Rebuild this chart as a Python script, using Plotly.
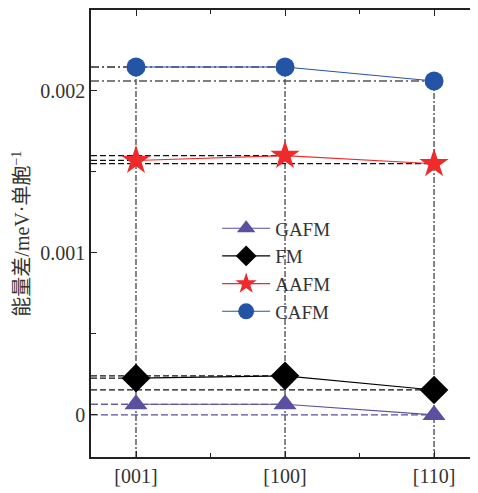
import plotly.graph_objects as go

categories = ["[001]", "[100]", "[110]"]
gafm = [0.000066, 0.000066, 0.0]
fm = [0.000227, 0.000241, 0.000154]
aafm = [0.001571, 0.001601, 0.001551]
cafm = [0.002148, 0.002148, 0.002062]

y_ticks = [0, 0.001, 0.002]
y_tick_labels = ["0", "0.001", "0.002"]

x_range = [-0.302, 2.295]
y_range = [-0.00026, 0.0025]

FONT = "Liberation Serif, 'Noto Sans CJK SC', serif"
xs = list(range(len(categories)))

fig = go.Figure()

# vertical dash-dot guides
for i in xs:
    fig.add_trace(go.Scatter(x=[i, i], y=[cafm[i], y_range[0]], mode="lines",
                             line=dict(color="#222222", width=1.1, dash="6px,2px,2px,2px"),
                             showlegend=False, hoverinfo="skip"))

def hrefs(vals, color, dash, width):
    for i in xs:
        fig.add_trace(go.Scatter(x=[x_range[0], i], y=[vals[i], vals[i]], mode="lines",
                                 line=dict(color=color, width=width, dash=dash),
                                 showlegend=False, hoverinfo="skip"))

hrefs(gafm, "#5a4fa0", "7px,3px", 1.1)
hrefs(fm, "#111111", "6px,3px", 1.2)
hrefs(aafm, "#111111", "6px,3px", 1.2)
hrefs(cafm, "#555555", "8px,3px,2px,3px", 1.6)

series = [
    ("GAFM", gafm, "#5a4fa0", "triangle-up", 20),
    ("FM", fm, "#000000", "diamond", 22),
    ("AAFM", aafm, "#ee2a2a", "star", 22),
    ("CAFM", cafm, "#2454a5", "circle", 19),
]
for name, vals, color, sym, size in series:
    fig.add_trace(go.Scatter(x=xs, y=vals, mode="lines+markers", name=name,
                             line=dict(color=color, width=1.1),
                             marker=dict(symbol=sym, size=size, color=color,
                                         line=dict(width=0))))

fig.update_layout(
    width=470, height=485,
    margin=dict(l=83, r=0, t=2, b=36),
    plot_bgcolor="white", paper_bgcolor="white",
    font=dict(family=FONT, size=20, color="#333333"),
    legend=dict(x=0.326, y=0.554, xanchor="left", yanchor="top",
                bgcolor="rgba(0,0,0,0)", font=dict(size=19, color="#333333"),
                itemwidth=48, tracegroupgap=0),
    annotations=[dict(text="能量差/meV·单胞<sup>−1</sup>", textangle=-90,
                      xref="paper", yref="paper", x=-0.183, y=0.5,
                      xanchor="center", yanchor="middle", showarrow=False,
                      font=dict(size=20, color="#333333", family=FONT))],
)
fig.update_xaxes(range=x_range, tickmode="array", tickvals=xs, ticktext=categories,
                 ticks="inside", ticklen=6, tickcolor="#222222",
                 showline=True, linecolor="#222222", linewidth=1.5, mirror="ticks",
                 showgrid=False, zeroline=False,
                 minor=dict(tickvals=[0.5, 1.5], ticks="inside", ticklen=4, tickcolor="#222222"))
fig.update_yaxes(range=y_range, tickmode="array", tickvals=y_ticks, ticktext=y_tick_labels,
                 ticks="inside", ticklen=6, tickcolor="#222222",
                 showline=True, linecolor="#222222", linewidth=1.5, mirror=False,
                 showgrid=False, zeroline=False,
                 minor=dict(tickvals=[0.0005, 0.0015], ticks="inside", ticklen=5, tickcolor="#222222"))

fig.write_html("out.html")
